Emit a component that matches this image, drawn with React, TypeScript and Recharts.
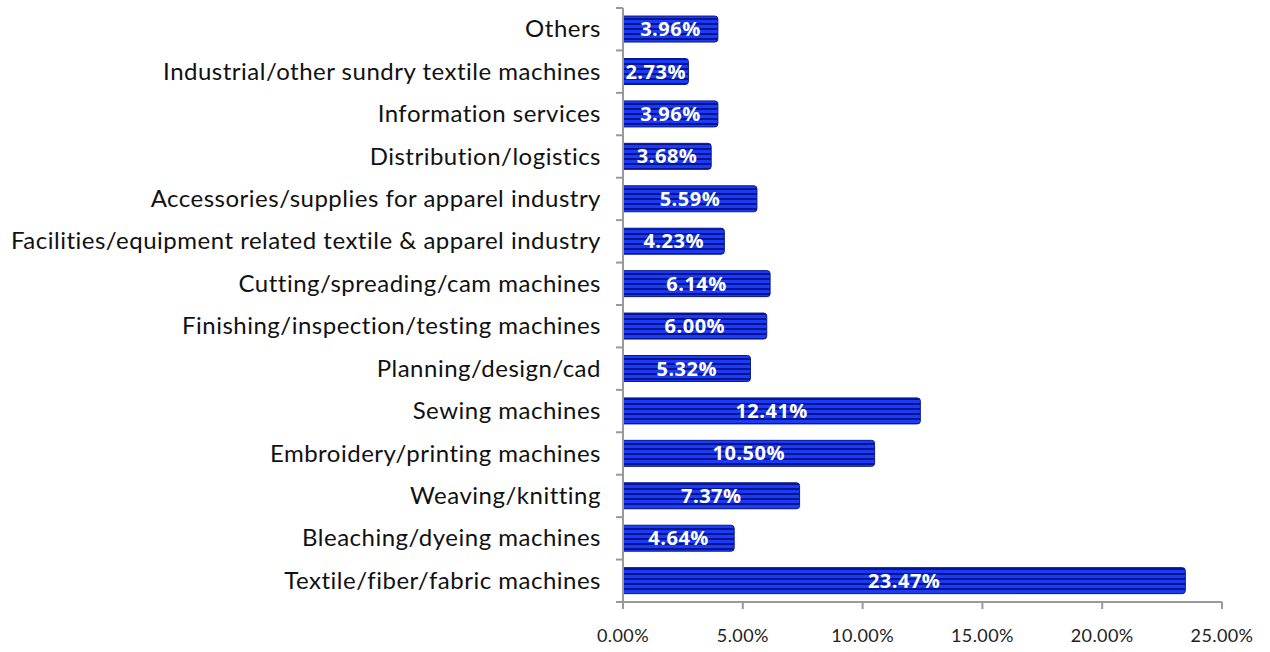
import { BarChart, Bar, XAxis, YAxis, LabelList } from "recharts";

const categories = [
  "Others",
  "Industrial/other sundry textile machines",
  "Information services",
  "Distribution/logistics",
  "Accessories/supplies for apparel industry",
  "Facilities/equipment related textile & apparel industry",
  "Cutting/spreading/cam machines",
  "Finishing/inspection/testing machines",
  "Planning/design/cad",
  "Sewing machines",
  "Embroidery/printing machines",
  "Weaving/knitting ",
  "Bleaching/dyeing machines",
  "Textile/fiber/fabric machines",
];

const shares = [3.96, 2.73, 3.96, 3.68, 5.59, 4.23, 6.14, 6.0, 5.32, 12.41, 10.5, 7.37, 4.64, 23.47];

const xTicks = [0, 5, 10, 15, 20, 25];

const data = categories.map((name, i) => ({ name, value: shares[i] }));

const W = 1270;
const H = 652;
const TOP = 8;
const BOTTOM = 50;
const band = (H - TOP - BOTTOM) / categories.length;
const pct = (v: number) => `${v.toFixed(2)}%`;

const CategoryTick = (props: any) => {
  const { x, y, payload, index } = props;
  const ax = x + 22;
  return (
    <g>
      <text
        x={x}
        y={y}
        dy={8}
        textAnchor="end"
        fontSize={24}
        letterSpacing={0.5}
        fill="#111"
        fontFamily="Lato, 'Open Sans', sans-serif"
      >
        {payload.value}
      </text>
      <line x1={ax - 7} x2={ax} y1={y - band / 2} y2={y - band / 2} stroke="#999" strokeWidth={2} />
      {index === categories.length - 1 && (
        <line x1={ax - 7} x2={ax} y1={y + band / 2} y2={y + band / 2} stroke="#999" strokeWidth={2} />
      )}
    </g>
  );
};

export default function App() {
  return (
    <div style={{ position: "absolute", left: 0, top: 0, background: "#fff" }}>
      <BarChart
        width={W}
        height={H}
        data={data}
        layout="vertical"
        margin={{ top: TOP, right: 48, bottom: 0, left: 0 }}
        barCategoryGap="19%"
      >
        <defs>
          <pattern id="stripes" width="8" height="5" patternUnits="userSpaceOnUse">
            <rect width="8" height="5" fill="#1a3cf6" />
            <rect y="3" width="8" height="2" fill="#08148f" />
          </pattern>
        </defs>
        <XAxis
          type="number"
          domain={[0, 25]}
          ticks={xTicks}
          tickFormatter={pct}
          axisLine={{ stroke: "#999", strokeWidth: 2 }}
          tickLine={{ stroke: "#999", strokeWidth: 2 }}
          tickSize={7}
          tickMargin={20}
          height={BOTTOM}
          tick={{ fontSize: 18, letterSpacing: 0.4, fill: "#222", fontFamily: "Lato, 'Open Sans', sans-serif" }}
        />
        <YAxis
          type="category"
          dataKey="name"
          width={623}
          interval={0}
          tickLine={false}
          tickSize={0}
          tickMargin={22}
          axisLine={{ stroke: "#999", strokeWidth: 2 }}
          tick={<CategoryTick />}
        />
        <Bar dataKey="value" fill="url(#stripes)" stroke="#0a1a90" strokeWidth={1} radius={[0, 3, 3, 0]} isAnimationActive={false}>
          <LabelList
            dataKey="value"
            position="center"
            formatter={(v: any) => pct(Number(v))}
            fill="#fff"
            fontSize={20}
            fontWeight="bold"
            letterSpacing={0.5}
            fontFamily="'Open Sans', Lato, sans-serif"
          />
        </Bar>
      </BarChart>
    </div>
  );
}
